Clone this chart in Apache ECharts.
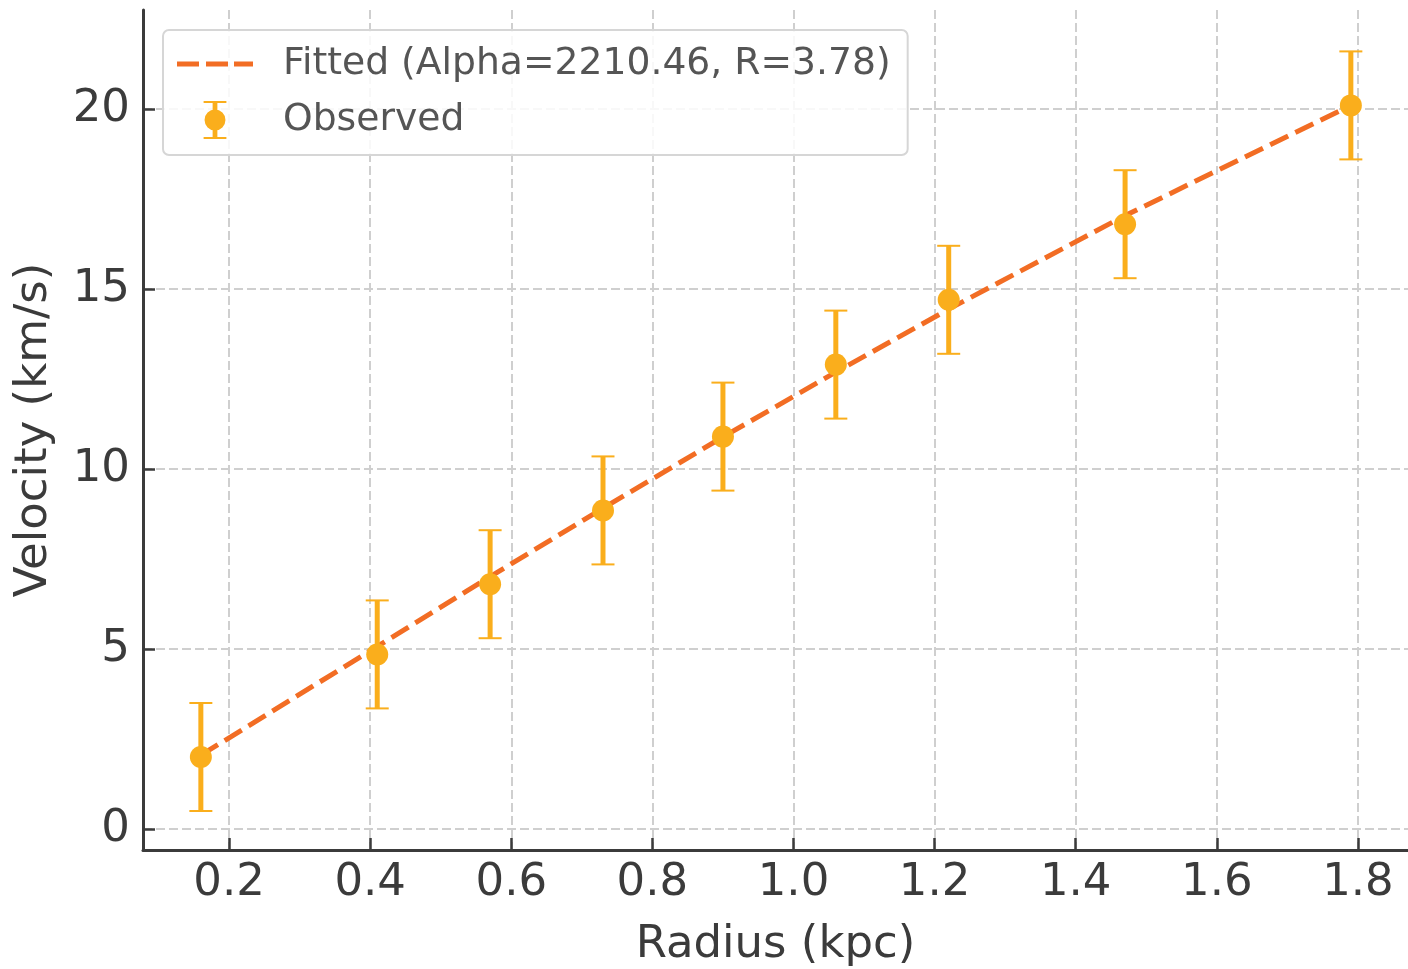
<!DOCTYPE html>
<html>
<head>
<meta charset="utf-8">
<script src="https://cdn.jsdelivr.net/npm/echarts@6.0.0/dist/echarts.min.js"></script>
<style>
  html, body { margin: 0; padding: 0; background: #fff; }
  #chart { width: 1408px; height: 969px; }
</style>
</head>
<body>
<div id="chart"></div>
<script>
// Rotation curve: observed velocities with uncertainties and the fitted model
const radius = [0.16, 0.41, 0.57, 0.73, 0.90, 1.06, 1.22, 1.47, 1.79];
const velocity = [2.0, 4.85, 6.8, 8.85, 10.9, 12.9, 14.7, 16.8, 20.1];
const velocityErr = [1.5, 1.5, 1.5, 1.5, 1.5, 1.5, 1.5, 1.5, 1.5];
const fittedVelocity = [2.05, 5.07, 7.01, 8.91, 10.89, 12.69, 14.44, 17.04, 20.1];
const xTicks = [0.2, 0.4, 0.6, 0.8, 1.0, 1.2, 1.4, 1.6, 1.8];
const yTicks = [0, 5, 10, 15, 20];

const fitName = 'Fitted (Alpha=2210.46, R=3.78)';
const obsName = 'Observed';

const ORANGE = '#FAAE1C';
const FIT = '#F26D24';
const AXIS = '#3b3b3b';
const FONT = 'DejaVu Sans';

const obsData = radius.map((r, i) => [r, velocity[i]]);
const errData = radius.map((r, i) => [r, velocity[i], velocityErr[i]]);
const fitData = radius.map((r, i) => [r, fittedVelocity[i]]);

// legend glyphs: a three-dash stroke, and an error bar with caps and a filled dot
const dashIcon = 'path://M0,0H22V5H0Z M29,0H51V5H29Z M57,0H76V5H57Z';
const errIcon = 'path://M0,0H24V2H0Z M9.5,0H14.5V40H9.5Z M0,38H24V40H0Z M23,20A11,11,0,1,1,1,20A11,11,0,1,1,23,20Z';

const chart = echarts.init(document.getElementById('chart'), null, { renderer: 'canvas' });

chart.setOption({
  backgroundColor: '#ffffff',
  animation: false,
  textStyle: { fontFamily: FONT },
  grid: { left: 143, right: 0, top: 10, bottom: 119, outerBoundsMode: 'none' },
  legend: {
    orient: 'vertical',
    left: 163,
    top: 30,
    padding: [15, 17, 16, 14],
    itemGap: 18,
    itemWidth: 76,
    itemHeight: 38,
    backgroundColor: 'rgba(255,255,255,0.85)',
    borderColor: '#d6d6d6',
    borderWidth: 2,
    borderRadius: 6,
    textStyle: { fontFamily: FONT, fontSize: 37.7, color: '#555555', padding: [0, 0, 0, 25] },
    data: [
      { name: fitName, icon: dashIcon, itemStyle: { color: FIT } },
      { name: obsName, icon: errIcon, itemStyle: { color: ORANGE } }
    ]
  },
  xAxis: {
    type: 'value',
    min: 0.078,
    max: 1.871,
    name: 'Radius (kpc)',
    nameLocation: 'middle',
    nameGap: 73,
    nameTextStyle: { fontFamily: FONT, fontSize: 45, color: AXIS },
    axisLine: { show: true, onZero: false, lineStyle: { color: AXIS, width: 3 } },
    axisTick: { show: true, inside: true, length: 12, lineStyle: { color: AXIS, width: 2.5 }, customValues: xTicks },
    axisLabel: {
      fontFamily: FONT, fontSize: 45, color: AXIS, margin: 11,
      customValues: xTicks,
      formatter: v => v.toFixed(1)
    },
    splitLine: { show: true, lineStyle: { color: '#cfcfcf', width: 2, type: [9, 4] } }
  },
  yAxis: {
    type: 'value',
    min: -0.583,
    max: 22.75,
    name: 'Velocity (km/s)',
    nameLocation: 'middle',
    nameGap: 86,
    nameTextStyle: { fontFamily: FONT, fontSize: 45, color: AXIS },
    axisLine: { show: true, onZero: false, lineStyle: { color: AXIS, width: 3 } },
    axisTick: { show: true, inside: true, length: 12, lineStyle: { color: AXIS, width: 2.5 }, customValues: yTicks },
    axisLabel: {
      fontFamily: FONT, fontSize: 45, color: AXIS, margin: 13,
      customValues: yTicks,
      formatter: v => String(v)
    },
    splitLine: { show: true, lineStyle: { color: '#cfcfcf', width: 2, type: [9, 4] } }
  },
  series: [
    {
      name: fitName,
      type: 'line',
      data: fitData,
      symbol: 'none',
      z: 2,
      lineStyle: { color: FIT, width: 5, type: [20, 8] },
      itemStyle: { color: FIT }
    },
    {
      name: obsName,
      type: 'custom',
      data: errData,
      z: 3,
      renderItem: (params, api) => {
        const x = api.value(0);
        const y = api.value(1);
        const e = api.value(2);
        const top = api.coord([x, y + e]);
        const bot = api.coord([x, y - e]);
        const half = 11.5;
        return {
          type: 'group',
          children: [
            { type: 'line', shape: { x1: top[0], y1: top[1], x2: bot[0], y2: bot[1] },
              style: { stroke: ORANGE, lineWidth: 5 } },
            { type: 'line', shape: { x1: top[0] - half, y1: top[1], x2: top[0] + half, y2: top[1] },
              style: { stroke: ORANGE, lineWidth: 2 } },
            { type: 'line', shape: { x1: bot[0] - half, y1: bot[1], x2: bot[0] + half, y2: bot[1] },
              style: { stroke: ORANGE, lineWidth: 2 } }
          ]
        };
      },
      itemStyle: { color: ORANGE }
    },
    {
      name: obsName,
      type: 'scatter',
      data: obsData,
      z: 4,
      symbol: 'circle',
      symbolSize: 22,
      itemStyle: { color: ORANGE, opacity: 1 }
    }
  ]
});
</script>
</body>
</html>
